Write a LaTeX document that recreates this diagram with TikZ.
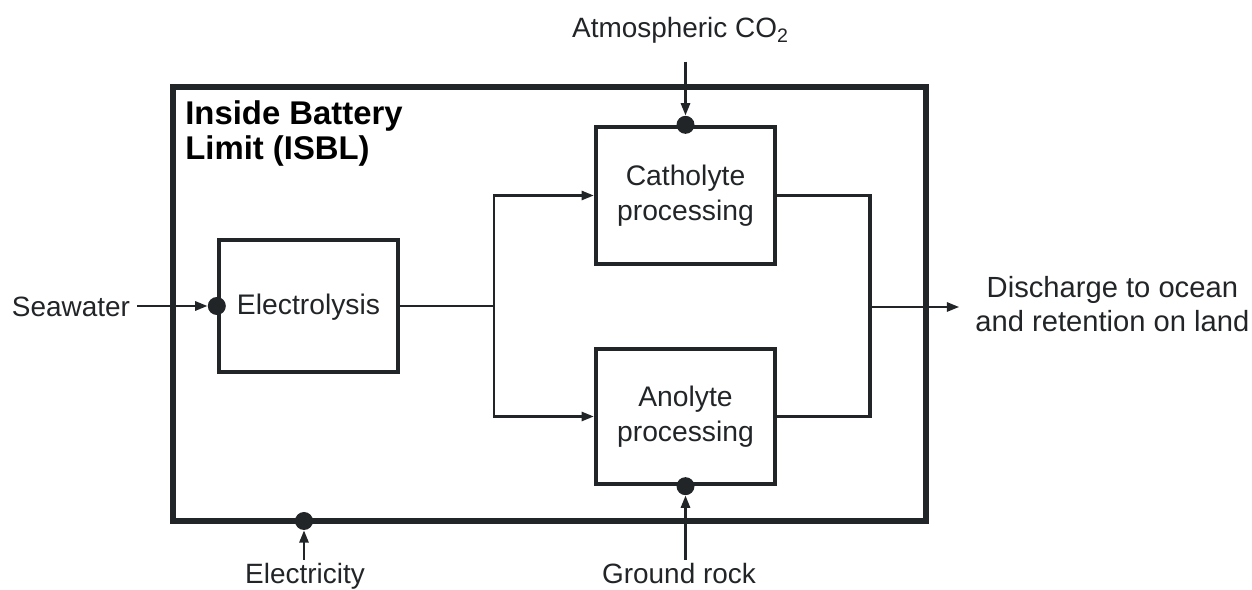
\documentclass[tikz,border=0pt]{standalone}
\usepackage{fontspec}
\setmainfont{Liberation Sans}
\usetikzlibrary{arrows.meta,calc}
\definecolor{ink}{RGB}{34,37,40}
\begin{document}
\begin{tikzpicture}[x=0.02cm,y=-0.02cm,
  lbl/.style={font=\fontsize{15.9}{18.7}\selectfont, text=ink, inner sep=1pt},
  proc/.style={draw=ink, line width=2.5pt, minimum width=3.58cm, align=center,
               font=\fontsize{16.1}{20}\selectfont, text=ink},
  dot/.style={circle, fill=ink, inner sep=0pt, minimum size=0.36cm},
  conn/.style={draw=ink, line width=1.4pt},
  connb/.style={draw=ink, line width=2pt},
  arr/.style={conn, -{Triangle[length=7pt,width=5.2pt]}}]
\useasboundingbox (0,0) rectangle (1252,590);

% outer battery limit
\node[draw=ink, line width=3.4pt, minimum width=15.06cm, minimum height=8.68cm] (isbl) at (549.5,304) {};
\node[anchor=north west, align=left, inner sep=0pt,
      font=\bfseries\fontsize{18.7}{20}\selectfont] (isbltxt) at (185,100) {Inside Battery\\Limit (ISBL)};

% process boxes
\node[proc, minimum height=2.64cm, text depth=0.3ex] (elec) at (308.5,306) {Electrolysis};
\node[proc, minimum height=2.74cm] (cath) at (685.5,195.5) {Catholyte\\processing};
\node[proc, minimum height=2.70cm] (ano) at (685.5,416.5) {Anolyte\\processing};

% dots
\node[dot] (d1) at (elec.west) {};
\node[dot] (d2) at (cath.north) {};
\node[dot] (d3) at (ano.south) {};
\node[dot] (d4) at (304,521) {};

% external labels
\node[lbl, anchor=base] (sea) at (71,317) {Seawater};
\node[lbl, anchor=base] (co2) at (680.5,38) {Atmospheric CO\textsubscript{2}};
\node[lbl, anchor=base] (rock) at (679,584) {Ground rock};
\node[lbl, anchor=base] (elc) at (305,584) {Electricity};
\node[lbl, font=\fontsize{16.6}{19.2}\selectfont, align=center, anchor=west, inner sep=0pt] (dis) at (975,304) {Discharge to ocean\\and retention on land};

% connectors
\coordinate (split) at (494,306);
\coordinate (join) at (870,307);
\draw[arr, shorten <=3pt] (sea.east |- d1) -- (d1.west);
\draw[conn] (elec.east) -- (split);
\draw[arr] (split) |- (cath.west);
\draw[arr] (split) |- (ano.west);
\draw[connb] (cath.east) -| (join) |- (ano.east);
\draw[arr, shorten >=9pt] (join) -- (join -| dis.west);
\draw[arr, shorten <=9pt] (d2 |- co2.south) -- (d2.north);
\draw[arr, shorten <=1pt] (d3 |- rock.north) -- (d3.south);
\draw[arr, shorten <=1pt] (d4 |- elc.north) -- (d4.south);
\end{tikzpicture}
\end{document}
